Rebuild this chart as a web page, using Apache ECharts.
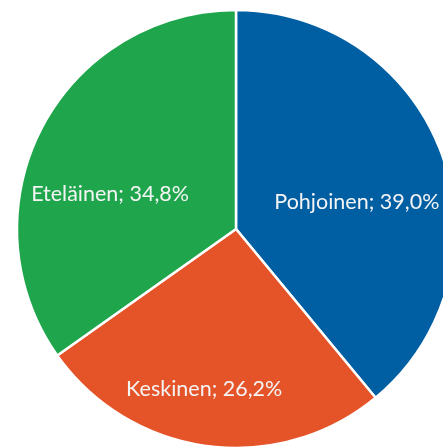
<!DOCTYPE html>
<html>
<head>
<meta charset="utf-8">
<script src="https://cdn.jsdelivr.net/npm/echarts@6/dist/echarts.min.js"></script>
<style>
  html, body { margin: 0; padding: 0; background: #fff; }
  #chart { width: 443px; height: 447px; }
</style>
</head>
<body>
<div id="chart"></div>
<script>
'use strict'
// Region shares (%)
var regions = ['Pohjoinen', 'Keskinen', 'Eteläinen']
var shares = [39.0, 26.2, 34.8]
var colors = ['#005ea3', '#e55428', '#1fa64c']
// label nudges so they sit where the original puts them
var labelOffsets = [[15, 11], [-17, 49], [-26, 17]]

var chart = echarts.init(document.getElementById('chart'))

var data = regions.map(function (name, i) {
  return {
    name: name,
    value: shares[i],
    itemStyle: { color: colors[i] },
    label: { offset: labelOffsets[i] }
  }
})

chart.setOption({
  animation: false,
  series: [
    {
      type: 'pie',
      center: [236, 229],
      radius: 219,
      startAngle: 90,
      clockwise: true,
      avoidLabelOverlap: false,
      itemStyle: {
        borderColor: '#ffffff',
        borderWidth: 2.5
      },
      label: {
        show: true,
        position: 'inside',
        color: '#f4f4f4',
        fontFamily: 'Lato',
        fontSize: 21.5,
        formatter: function (p) {
          return p.name + '; ' + p.value.toFixed(1).replace('.', ',') + '%'
        }
      },
      labelLine: { show: false },
      emphasis: { disabled: true },
      data: data
    }
  ]
})
</script>
</body>
</html>
